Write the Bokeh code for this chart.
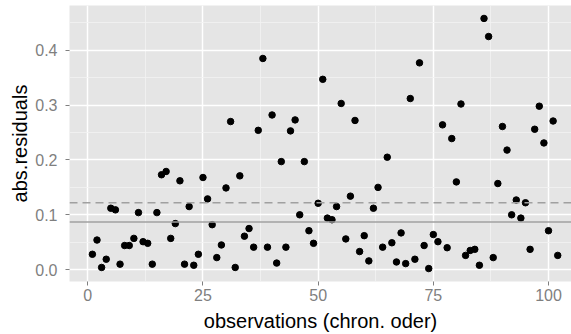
from bokeh.plotting import figure
from bokeh.models import Range1d, FixedTicker, PrintfTickFormatter, Span
from bokeh.embed import file_html
from bokeh.resources import INLINE

# ---- data ----
observations = list(range(1, 103))
abs_residuals = [
    0.028, 0.054, 0.004, 0.019, 0.112, 0.109, 0.010, 0.044, 0.044, 0.057,
    0.104, 0.051, 0.048, 0.010, 0.104, 0.173, 0.179, 0.057, 0.084, 0.162,
    0.010, 0.115, 0.008, 0.028, 0.168, 0.129, 0.082, 0.022, 0.045, 0.149,
    0.270, 0.004, 0.171, 0.061, 0.075, 0.041, 0.254, 0.385, 0.041, 0.282,
    0.012, 0.197, 0.041, 0.253, 0.273, 0.100, 0.197, 0.071, 0.048, 0.121,
    0.347, 0.094, 0.091, 0.115, 0.303, 0.056, 0.134, 0.272, 0.033, 0.062,
    0.016, 0.112, 0.150, 0.041, 0.205, 0.049, 0.014, 0.067, 0.011, 0.312,
    0.019, 0.377, 0.044, 0.002, 0.064, 0.051, 0.264, 0.040, 0.239, 0.160,
    0.302, 0.026, 0.035, 0.037, 0.008, 0.458, 0.425, 0.022, 0.157, 0.261,
    0.218, 0.100, 0.127, 0.094, 0.122, 0.037, 0.256, 0.298, 0.231, 0.071,
    0.271, 0.026,
]
hline_solid = 0.087
hline_dashed = 0.122
x_ticks = [0, 25, 50, 75, 100]
x_minor = [12.5, 37.5, 62.5, 87.5]
y_ticks = [0.0, 0.1, 0.2, 0.3, 0.4]
y_minor = [0.05, 0.15, 0.25, 0.35, 0.45]
x_title = "observations (chron. oder)"
y_title = "abs.residuals"

FONT = "Liberation Sans"

p = figure(width=571, height=334, output_backend="svg", toolbar_location=None,
           x_range=Range1d(-3.97, 104.99), y_range=Range1d(-0.0216, 0.4816),
           min_border_left=69, min_border_right=0, min_border_top=5,
           min_border_bottom=50)

p.background_fill_color = "#E5E5E5"
p.border_fill_color = "white"
p.outline_line_color = None

for ax, ticks, minor in ((p.xaxis[0], x_ticks, x_minor), (p.yaxis[0], y_ticks, y_minor)):
    ax.ticker = FixedTicker(ticks=ticks, minor_ticks=minor)
    ax.axis_line_color = None
    ax.major_tick_line_color = "#7F7F7F"
    ax.major_tick_line_width = 1
    ax.major_tick_in = 0
    ax.major_tick_out = 4
    ax.minor_tick_line_color = None
    ax.major_label_text_font = FONT
    ax.major_label_text_font_size = "16px"
    ax.major_label_text_color = "#7F7F7F"
    ax.axis_label_text_font = FONT
    ax.axis_label_text_font_size = "20px"
    ax.axis_label_text_font_style = "normal"
    ax.axis_label_text_color = "black"

p.xaxis[0].major_label_standoff = 3
p.xaxis[0].axis_label_standoff = 6
p.yaxis[0].major_label_standoff = 8
p.yaxis[0].axis_label_standoff = 1

p.xaxis[0].axis_label = x_title
p.yaxis[0].axis_label = y_title
p.yaxis[0].formatter = PrintfTickFormatter(format="%.1f")

for g in (p.xgrid[0], p.ygrid[0]):
    g.grid_line_color = "white"
    g.grid_line_width = 1.5
    g.minor_grid_line_color = "#F2F2F2"
    g.minor_grid_line_width = 0.8

p.add_layout(Span(location=hline_solid, dimension="width",
                  line_color="#A0A0A0", line_width=1.5))
p.add_layout(Span(location=hline_dashed, dimension="width",
                  line_color="#A0A0A0", line_width=1.5, line_dash="8 5"))

p.scatter(observations, abs_residuals, size=6.5, color="black")

open("out.html", "w").write(file_html(p, INLINE))
